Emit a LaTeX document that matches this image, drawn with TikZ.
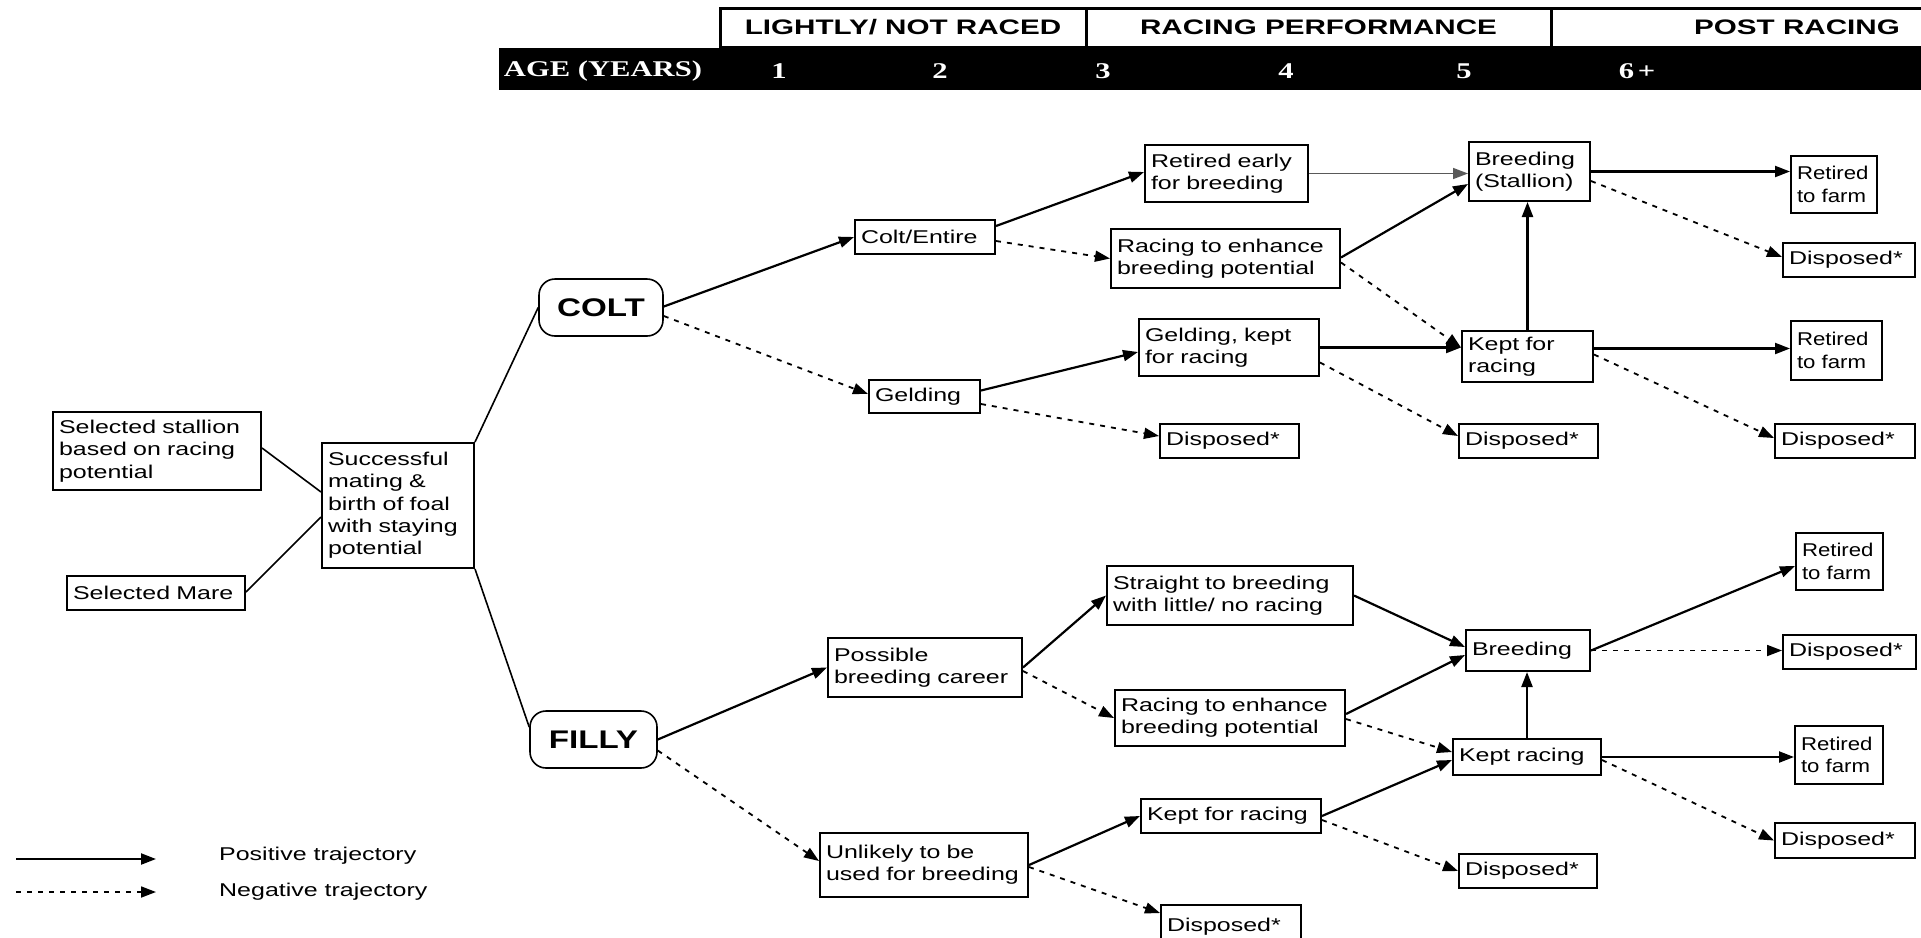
\documentclass[tikz,border=0pt]{standalone}
\usepackage{fontspec}
\setmainfont{Liberation Sans}[FakeStretch=1.35]
\newfontfamily\retfont{Liberation Sans}[FakeStretch=1.2]
\newfontfamily\hdrfont{Liberation Sans}[FakeStretch=1.41]
\newfontfamily\sexfont{Liberation Sans}[FakeStretch=1.3]
\newfontfamily\agefont{Liberation Serif}[FakeStretch=1.36]
\usetikzlibrary{arrows.meta,calc}
\newcommand\mkbox[6]{%
  \pgfmathsetmacro\mkw{#4-#2-12}%
  \pgfmathsetmacro\mkh{#5-#3}%
  \node[flowbox, text width=\mkw pt, minimum height=\mkh pt] (#1) at ({(#2+#4)/2},{(#3+#5)/2}) {#6};}
\begin{document}
\begin{tikzpicture}[x=1pt,y=-1pt,
  flowbox/.style={draw, line width=2pt, inner xsep=6pt, inner ysep=0pt, align=left,
    font=\fontsize{18.5}{22.3}\selectfont},
  sexbox/.style={draw, line width=1.6pt, rounded corners=16pt, inner sep=0pt,
    font=\sexfont\bfseries\fontsize{25.5}{28}\selectfont},
  hdrbox/.style={draw, line width=3pt, fill=white, inner sep=0pt, minimum height=39pt,
    font=\hdrfont\bfseries\fontsize{21}{24}\selectfont},
  agelbl/.style={text=white, inner sep=0pt, font=\agefont\bfseries\fontsize{22.5}{24}\selectfont},
  plainline/.style={draw, line width=1.6pt},
  posarrow/.style={draw, line width=2.2pt, -{Triangle[length=15pt,width=11pt]}},
  negarrow/.style={draw, line width=1.8pt, dash pattern=on 5pt off 6pt, -{Triangle[length=15pt,width=11pt]}},
  legtext/.style={anchor=west, inner sep=0pt, font=\fontsize{18.5}{22.3}\selectfont}]
\useasboundingbox (0,0) rectangle (1921,937);
\fill[white] (0,0) rectangle (1921,937);

% header
\fill[black] (499,48) rectangle (1930,90);
\node[hdrbox, minimum width=366pt] (h1) at (903,27.5) {LIGHTLY/ NOT RACED};
\node[hdrbox, minimum width=465pt] (h2) at (1318.5,27.5) {RACING PERFORMANCE};
\node[hdrbox, minimum width=492pt] (h3) at (1797,27.5) {POST RACING};
\node[agelbl] (age) at (603,71) {AGE (YEARS)};
\node[agelbl] (a1) at (779,71) {1};
\node[agelbl] (a2) at (940,71) {2};
\node[agelbl] (a3) at (1103,71) {3};
\node[agelbl] (a4) at (1286,71) {4};
\node[agelbl] (a5) at (1464,71) {5};
\node[agelbl] (a6) at (1637,71) {6\,+};

% left part
\mkbox{st}{53}{412}{261}{490}{Selected stallion\\based on racing\\potential}
\mkbox{mare}{67}{576}{245}{610}{Selected Mare}
\mkbox{sm}{322}{443}{474}{568}{Successful\\mating \&\\birth of foal\\with staying\\potential}
\node[sexbox, minimum width=124pt, minimum height=57pt] (colt) at (601,307.5) {COLT};
\node[sexbox, minimum width=127pt, minimum height=57pt] (filly) at (593.5,739.5) {FILLY};

% colt branch
\mkbox{ce}{855}{220}{995}{254}{Colt/Entire}
\mkbox{geld}{869}{380}{980}{413}{Gelding}
\mkbox{re}{1145}{145}{1308}{202}{Retired early\\for breeding}
\mkbox{rc}{1111}{229}{1340}{288}{Racing~to~enhance\\breeding~potential}
\mkbox{gk}{1139}{319}{1319}{376}{Gelding, kept\\for racing}
\mkbox{d1}{1160}{424}{1299}{458}{Disposed*}
\mkbox{bs}{1469}{142}{1590}{201}{Breeding\\(Stallion)}
\mkbox{kfr}{1462}{331}{1593}{382}{Kept for\\racing}
\mkbox{d2}{1459}{424}{1598}{458}{Disposed*}
\mkbox{rf1}{1791}{156}{1877}{213}{\retfont Retired\\to~farm}
\mkbox{d3}{1783}{243}{1915}{277}{Disposed*}
\mkbox{rf2}{1791}{321}{1882}{380}{\retfont Retired\\to~farm}
\mkbox{d4}{1775}{424}{1915}{458}{Disposed*}

% filly branch
\mkbox{pbc}{828}{638}{1022}{697}{Possible\\breeding~career}
\mkbox{unl}{820}{833}{1028}{897}{Unlikely to be\\used~for~breeding}
\mkbox{str}{1107}{566}{1353}{625}{Straight~to~breeding\\with~little/~no~racing}
\mkbox{rcf}{1115}{690}{1345}{746}{Racing~to~enhance\\breeding~potential}
\mkbox{kff}{1141}{799}{1321}{833}{Kept~for~racing}
\node[flowbox, text width=128pt, minimum height=46pt, anchor=north] (d5) at (1231,904) {\vspace*{3pt}Disposed*};
\mkbox{br}{1466}{630}{1590}{671}{Breeding}
\mkbox{kr}{1453}{739}{1601}{775}{Kept~racing}
\mkbox{d6}{1459}{854}{1597}{888}{Disposed*}
\mkbox{rf3}{1796}{533}{1883}{590}{\retfont Retired\\to~farm}
\mkbox{d7}{1783}{635}{1916}{669}{Disposed*}
\mkbox{rf4}{1795}{726}{1883}{784}{\retfont Retired\\to~farm}
\mkbox{d8}{1775}{823}{1915}{858}{Disposed*}

% plain lines
\draw[plainline] ([yshift=3pt]st.east) -- ([yshift=13.5pt]sm.west);
\draw[plainline] ([yshift=1pt]mare.east) -- ([yshift=-11.5pt]sm.west);
\draw[plainline] (sm.north east) -- (colt.west);
\draw[plainline] (sm.south east) -- ([yshift=12.5pt]filly.west);

% colt arrows
\draw[posarrow] ([yshift=1pt]colt.east) -- (ce.west);
\draw[negarrow] ([yshift=-8.5pt]colt.east) -- ([yshift=2.5pt]geld.west);
\draw[posarrow] ([yshift=11pt]ce.east) -- ([yshift=1.5pt]re.west);
\draw[negarrow] ([yshift=-4pt]ce.east) -- (rc.west);
\draw[posarrow] ([yshift=6pt]geld.east) -- ([yshift=-4.5pt]gk.west);
\draw[negarrow] ([yshift=-7.5pt]geld.east) -- ([yshift=5pt]d1.west);
\draw[posarrow, draw=black!65, line width=1.5pt] (re.east) -- (re.east -| bs.west);
\draw[posarrow] ([yshift=1pt]rc.east) -- ([yshift=-12.5pt]bs.west);
\draw[negarrow] ([yshift=-4pt]rc.east) -- ([yshift=9pt]kfr.west);
\draw[posarrow] (gk.east) -- (gk.east -| kfr.west);
\draw[negarrow] ([yshift=-15pt]gk.east) -- ([yshift=5pt]d2.west);
\draw[posarrow] (kfr.north) -- (kfr.north |- bs.south);
\draw[posarrow] (bs.east) -- (bs.east -| rf1.west);
\draw[negarrow] ([yshift=-9.5pt]bs.east) -- ([yshift=3pt]d3.west);
\draw[posarrow] ([yshift=8pt]kfr.east) -- ([yshift=8pt]kfr.east -| rf2.west);
\draw[negarrow] ([yshift=2pt]kfr.east) -- ([yshift=3pt]d4.west);

% filly arrows
\draw[posarrow] (filly.east) -- (pbc.west);
\draw[negarrow] ([yshift=-11pt]filly.east) -- ([yshift=4pt]unl.west);
\draw[posarrow] (pbc.east) -- (str.west);
\draw[negarrow] ([yshift=-3.5pt]pbc.east) -- (rcf.west);
\draw[posarrow] (unl.east) -- (kff.west);
\draw[negarrow] ([yshift=-2pt]unl.east) -- ([yshift=-9pt]d5.north west);
\draw[posarrow] (str.east) -- ([yshift=3.5pt]br.west);
\draw[posarrow] ([yshift=4pt]rcf.east) -- ([yshift=-4.5pt]br.west);
\draw[negarrow] ([yshift=-1pt]rcf.east) -- ([yshift=5pt]kr.west);
\draw[posarrow] (kff.east) -- ([yshift=-3pt]kr.west);
\draw[negarrow] ([yshift=-4pt]kff.east) -- (d6.west);
\draw[posarrow] (kr.north) -- (kr.north |- br.south);
\draw[posarrow] (br.east) -- ([yshift=-4.5pt]rf3.west);
\draw[negarrow] (br.east) -- (br.east -| d7.west);
\draw[posarrow] (kr.east) -- (kr.east -| rf4.west);
\draw[negarrow] ([yshift=-3pt]kr.east) -- (d8.west);

% legend
\coordinate (lpa) at (16,859);
\coordinate (lpb) at (156,859);
\coordinate (lna) at (16,892);
\coordinate (lnb) at (156,892);
\draw[posarrow] (lpa) -- (lpb);
\draw[negarrow] (lna) -- (lnb);
\node[legtext] (lpt) at (219,856) {Positive trajectory};
\node[legtext] (lnt) at (219,892) {Negative trajectory};
\end{tikzpicture}
\end{document}
